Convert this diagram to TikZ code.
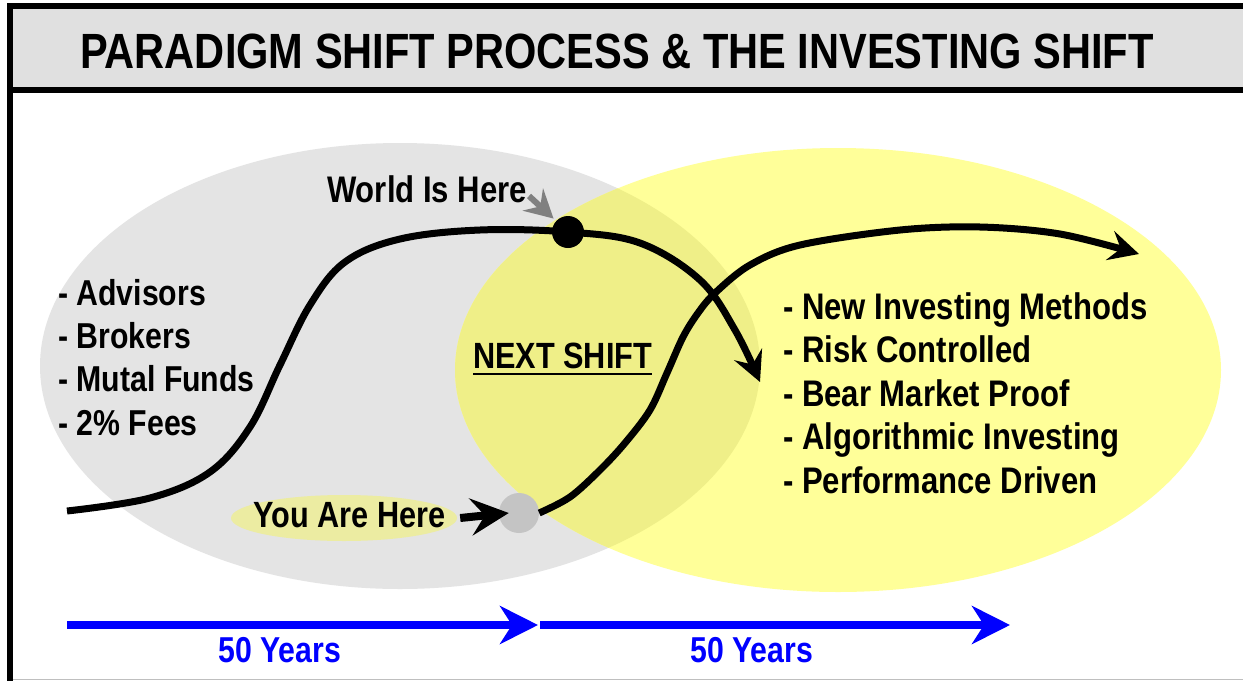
\documentclass[tikz,border=0pt]{standalone}
\usepackage{fontspec}
\setmainfont{Liberation Sans}[FakeStretch=0.84]
\usetikzlibrary{arrows.meta,shapes.geometric}
\definecolor{hdrgray}{HTML}{E0E0E0}
\definecolor{oldgray}{HTML}{E4E4E4}
\definecolor{newyel}{HTML}{FFFF99}
\definecolor{overlap}{HTML}{EFEF88}
\definecolor{youyel}{HTML}{ECECA2}
\definecolor{dotgray}{HTML}{C4C4C4}
\definecolor{arrgray}{HTML}{808080}
\definecolor{myblue}{HTML}{0000FF}
\tikzset{
  txt/.style={inner sep=0pt, font=\bfseries\fontsize{36.5}{43.5}\selectfont},
  listtxt/.style={txt, align=left, anchor=base west},
  shiftcurve/.style={line width=7pt, -{Stealth[length=30pt,width=30pt,inset=11pt]}},
  bluearrow/.style={myblue, line width=8pt, -{Stealth[length=38pt,width=38pt,inset=12pt]}},
  youarrow/.style={black, line width=8pt, -{Stealth[length=38pt,width=37pt,inset=14pt]}},
  worldarrow/.style={arrgray, line width=6pt, -{Stealth[length=28pt,width=30pt,inset=10pt]}},
}
\begin{document}
\begin{tikzpicture}[x=1pt,y=-1pt]
\useasboundingbox (0,0) rectangle (1243,681);
\fill[white] (0,0) rectangle (1243,681);
% header
\fill[hdrgray] (10,6) rectangle (1243,90);
\draw[line width=6pt] (7,6) -- (1243,6);
\draw[line width=6pt] (10,90) -- (1243,90);
\draw[line width=6pt] (10,3) -- (10,681);
\draw[line width=1pt, black!25] (13,679.5) -- (1243,679.5);
\node[inner sep=0pt, anchor=base, font=\bfseries\fontsize{49.5}{60}\selectfont] (title) at (617,68)
  {PARADIGM SHIFT PROCESS \& THE INVESTING SHIFT};
% ellipses
\fill[oldgray] (400,366) ellipse [x radius=360, y radius=223];
\fill[newyel] (838,370) ellipse [x radius=383, y radius=222];
\begin{scope}
  \clip (400,366) ellipse [x radius=360, y radius=223];
  \fill[overlap] (838,370) ellipse [x radius=383, y radius=222];
\end{scope}
% texts
\node[listtxt, font=\bfseries\fontsize{36}{43.3}\selectfont] (oldlist) at (58,435)
  {- Advisors\\- Brokers\\- Mutal Funds\\- 2\% Fees};
\node[listtxt, font=\bfseries\fontsize{37}{43.5}\selectfont] (newlist) at (783,493)
  {- New Investing Methods\\- Risk Controlled\\- Bear Market Proof\\- Algorithmic Investing\\- Performance Driven};
\node[txt, anchor=base west, font=\bfseries\fontsize{37}{43}\selectfont] (world) at (327,202) {World Is Here};
\node[txt, anchor=base west] (ns) at (473,368) {NEXT SHIFT};
\draw[line width=2.5pt] ([yshift=-6pt]ns.base west) -- ([yshift=-6pt]ns.base east);
% you are here
\node[ellipse, fill=youyel, minimum width=226pt, minimum height=46pt, inner sep=0pt] (yell) at (344,518) {};
\node[txt, anchor=base] (you) at (349.5,527) {You Are Here};
% curves
\node[circle, fill=dotgray, minimum size=40pt, inner sep=0pt] (ydot) at (519,513) {};
\coordinate (c1s) at (67,511);
\coordinate (c1e) at (760,382);
\coordinate (c2e) at (1139,254);
\draw[shiftcurve] plot[smooth, tension=0.6] coordinates {(c1s) (150,498) (210,472) (250,427) (280,365) (310,305) (345,262) (400,239) (480,230) (568,232) (640,243) (700,280) (735,330) (c1e)};
\draw[shiftcurve] plot[smooth, tension=0.55] coordinates {(ydot.east) (570,497) (600,470) (625,443) (650,410) (667,373) (683,337) (698,313) (715,293) (750,265) (800,245) (900,230) (980,227) (1060,234) (c2e)};
\node[circle, fill=black, minimum size=32pt, inner sep=0pt] (wdot) at (568,232) {};
\coordinate (wtail) at (529,196);
\draw[worldarrow] (wtail) -- ([shift={(-3pt,2pt)}]wdot.north west);
\draw[youarrow] ([xshift=3pt]yell.east) -- ([xshift=10pt]ydot.west);
% timeline
\coordinate (b1s) at (67,625);
\coordinate (b1e) at (538,625);
\coordinate (b2s) at (540,625);
\coordinate (b2e) at (1010,625);
\draw[bluearrow] (b1s) -- (b1e);
\draw[bluearrow] (b2s) -- (b2e);
\node[txt, anchor=base west, text=myblue, font=\bfseries\fontsize{36}{40}\selectfont] (y1) at (218,662) {50 Years};
\node[txt, anchor=base west, text=myblue, font=\bfseries\fontsize{36}{40}\selectfont] (y2) at (690,662) {50 Years};
\end{tikzpicture}
\end{document}
